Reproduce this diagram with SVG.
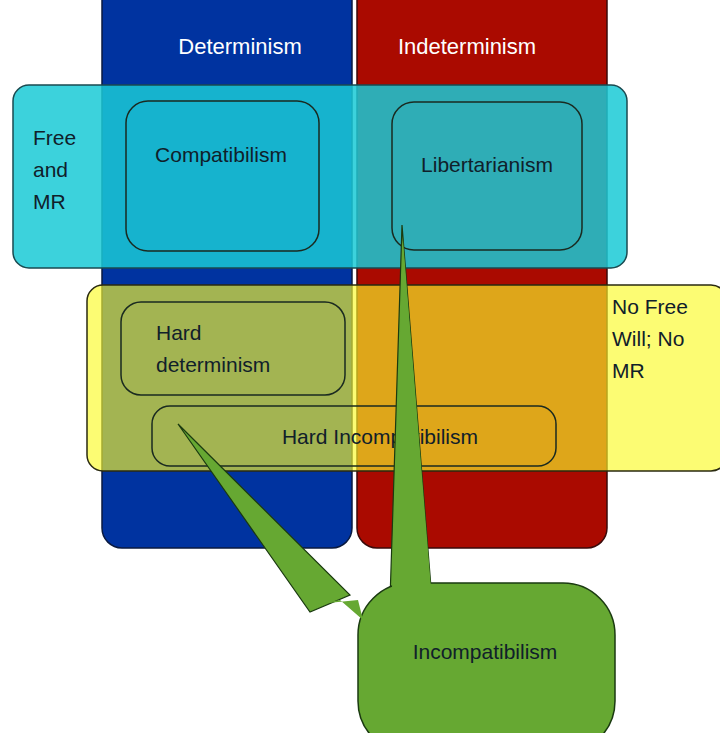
<svg xmlns="http://www.w3.org/2000/svg" width="720" height="733" viewBox="0 0 720 733">
<style>
text{font-family:"Liberation Sans",Arial,sans-serif;font-size:21px;fill:#10202a}
.w{fill:#fff;font-size:22px}
.box{fill:none;stroke:#1a2a20;stroke-width:1.5}
</style>
<rect width="720" height="733" fill="#fff"/>
<g id="determinism"><rect x="102" y="-20" width="250" height="568" rx="20" fill="#0033a0" stroke="#0a1a40" stroke-width="1.5"/><text class="w" x="240" y="54" text-anchor="middle">Determinism</text></g>
<g id="indeterminism"><rect x="357" y="-20" width="250" height="568" rx="20" fill="#aa0a00" stroke="#3a0a0a" stroke-width="1.5"/><text class="w" x="467" y="54" text-anchor="middle">Indeterminism</text></g>
<g id="free"><rect x="13" y="85" width="614" height="183" rx="16" fill="#1acad6" fill-opacity="0.85" stroke="#1a4a50" stroke-width="1.5"/><text x="33" y="145">Free</text><text x="33" y="177">and</text><text x="33" y="209">MR</text></g>
<g id="nofree"><rect x="87" y="285" width="640" height="186" rx="16" fill="#fafa28" fill-opacity="0.65" stroke="#2a2a10" stroke-width="1.5"/><text x="612" y="314">No Free</text><text x="612" y="346">Will; No</text><text x="612" y="378">MR</text></g>
<g id="compatibilism"><rect class="box" x="126" y="101" width="193" height="150" rx="22"/><text x="221" y="162" text-anchor="middle">Compatibilism</text></g>
<g id="libertarianism"><rect class="box" x="392" y="102" width="190" height="148" rx="22"/><text x="487" y="172" text-anchor="middle">Libertarianism</text></g>
<g id="hard-determinism"><rect class="box" x="121" y="302" width="224" height="93" rx="20"/><text x="156" y="340">Hard</text><text x="156" y="372">determinism</text></g>
<g id="hard-incompatibilism"><rect class="box" x="152" y="406" width="404" height="60" rx="18"/><text x="380" y="444" text-anchor="middle">Hard Incompatibilism</text></g>
<g id="connectors" fill="#66a832" stroke="#1a3a10" stroke-width="1.2">
<polygon points="402,225 390,600 432,600"/>
<polygon points="178,424 310,612 350,595"/>
</g>
<g id="incompatibilism"><rect x="358" y="583" width="257" height="170" rx="52" fill="#66a832" stroke="#1a3a10" stroke-width="1.5"/>
<polygon points="392,588 431,588 403,240" fill="#66a832"/><polygon points="318,604 358,600 363,620 340,600" fill="#66a832"/>
<text x="485" y="659" text-anchor="middle">Incompatibilism</text></g>
</svg>
